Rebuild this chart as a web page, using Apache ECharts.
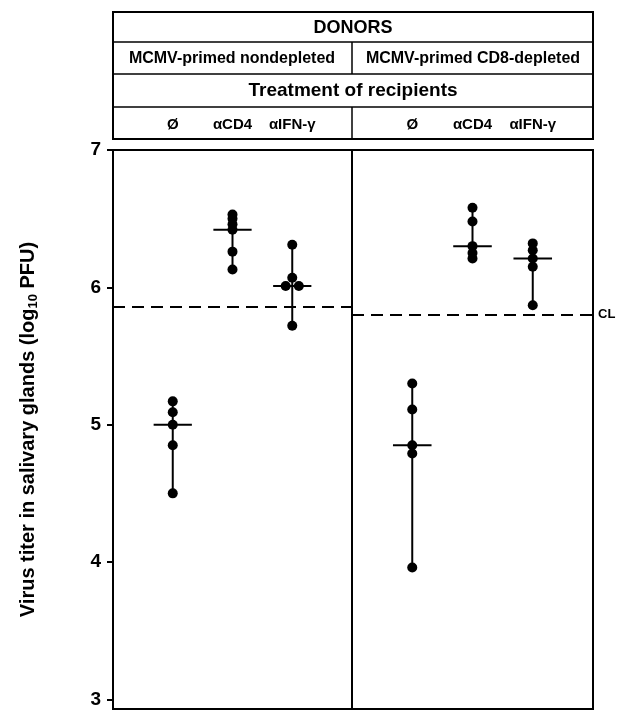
<!DOCTYPE html>
<html>
<head>
<meta charset="utf-8">
<script src="https://cdn.jsdelivr.net/npm/echarts@6/dist/echarts.min.js"></script>
<style>html,body{margin:0;padding:0;background:#fff}#c{width:620px;height:711px}</style>
</head>
<body>
<div id="c"></div>
<script>
// ---- data ----
const treatments = ['Ø', 'αCD4', 'αIFN-γ'];
const donorGroups = ['MCMV-primed nondepleted', 'MCMV-primed CD8-depleted'];
const nondepletedNone = [5.17, 5.09, 5.00, 4.85, 4.50];
const nondepletedCD4 = [6.53, 6.50, 6.46, 6.42, 6.26, 6.13];
const nondepletedIFN = [6.31, 6.07, 6.01, 6.01, 5.72];
const cd8depNone = [5.30, 5.11, 4.85, 4.79, 3.96];
const cd8depCD4 = [6.58, 6.48, 6.30, 6.25, 6.21];
const cd8depIFN = [6.32, 6.27, 6.21, 6.15, 5.87];
const nondepletedMedians = [5.00, 6.42, 6.01];
const cd8depMedians = [4.85, 6.30, 6.21];
const detectionLimits = [5.86, 5.80];
const yTicks = [3, 4, 5, 6, 7];

const panels = [
  {groups: [nondepletedNone, nondepletedCD4, nondepletedIFN], medians: nondepletedMedians, cl: detectionLimits[0], clLabel: ''},
  {groups: [cd8depNone, cd8depCD4, cd8depIFN], medians: cd8depMedians, cl: detectionLimits[1], clLabel: 'CL'}
];

const FONT = '"Liberation Sans", Arial, sans-serif';
const DODGE = 0.11;

function pointsFor(groups) {
  const pts = [];
  groups.forEach((vals, gi) => {
    const seen = {};
    vals.forEach(v => { seen[v] = (seen[v] || 0) + 1; });
    const used = {};
    vals.forEach(v => {
      const n = seen[v];
      const k = used[v] || 0; used[v] = k + 1;
      const off = n > 1 ? (k - (n - 1) / 2) * 2 * DODGE : 0;
      pts.push([gi + 1 + off, v]);
    });
  });
  return pts;
}
function barsFor(groups, medians) {
  return groups.map((vals, gi) => [gi + 1, Math.min(...vals), Math.max(...vals), medians[gi]]);
}

const series = [];
panels.forEach((p, pi) => {
  series.push({
    type: 'custom', xAxisIndex: pi, yAxisIndex: pi, silent: true, z: 2,
    data: barsFor(p.groups, p.medians),
    renderItem: function (params, api) {
      const x = api.value(0);
      const lo = api.coord([x, api.value(1)]);
      const hi = api.coord([x, api.value(2)]);
      const md = api.coord([x, api.value(3)]);
      const hw = api.size([0.32, 0])[0];
      const st = {stroke: '#000', lineWidth: 2};
      return {type: 'group', children: [
        {type: 'line', shape: {x1: lo[0], y1: lo[1], x2: hi[0], y2: hi[1]}, style: st},
        {type: 'line', shape: {x1: md[0] - hw, y1: md[1], x2: md[0] + hw, y2: md[1]}, style: st}
      ]};
    }
  });
  series.push({
    type: 'scatter', xAxisIndex: pi, yAxisIndex: pi, z: 3, silent: true,
    symbolSize: 10, itemStyle: {color: '#000', opacity: 1},
    data: pointsFor(p.groups),
    markLine: {
      silent: true, symbol: 'none', animation: false,
      lineStyle: {type: [12, 7], width: 2, color: '#000', opacity: 1},
      label: {show: !!p.clLabel, position: 'end', formatter: p.clLabel, color: '#000',
              fontWeight: 'bold', fontSize: 13, fontFamily: FONT, distance: 5},
      data: [{yAxis: p.cl}]
    }
  });
});

const gridCommon = {top: 150, height: 559, show: true, borderColor: '#000', borderWidth: 2, backgroundColor: 'transparent'};
const xCommon = {
  type: 'value', min: 0, max: 4, position: 'top',
  axisLine: {show: false}, axisTick: {show: false}, splitLine: {show: false},
  axisLabel: {customValues: [1, 2, 3], formatter: v => treatments[Math.round(v) - 1],
              margin: 18, color: '#000', fontWeight: 'bold', fontSize: 15, fontFamily: FONT}
};

const option = {
  animation: false,
  backgroundColor: '#fff',
  textStyle: {fontFamily: FONT},
  grid: [
    Object.assign({left: 113, width: 239}, gridCommon),
    Object.assign({left: 352, width: 241}, gridCommon)
  ],
  xAxis: [Object.assign({gridIndex: 0}, xCommon), Object.assign({gridIndex: 1}, xCommon)],
  yAxis: [
    {gridIndex: 0, type: 'value', min: 2.93, max: 7,
     axisLine: {show: true, lineStyle: {color: '#000', width: 2}},
     axisTick: {show: true, length: 6, customValues: yTicks, lineStyle: {color: '#000', width: 2}},
     axisLabel: {customValues: yTicks, color: '#000', fontWeight: 'bold', fontSize: 19, margin: 12, fontFamily: FONT},
     splitLine: {show: false},
     name: '{a|Virus titer in salivary glands (log}{s|10}{a| PFU)}',
     nameLocation: 'middle', nameGap: 73,
     nameTextStyle: {rich: {
       a: {fontSize: 20, fontWeight: 'bold', color: '#000', fontFamily: FONT, lineHeight: 24},
       s: {fontSize: 13, fontWeight: 'bold', color: '#000', fontFamily: FONT, lineHeight: 14, verticalAlign: 'bottom'}
     }}},
    {gridIndex: 1, type: 'value', min: 2.93, max: 7, show: true,
     axisLine: {show: false}, axisTick: {show: false}, axisLabel: {show: false}, splitLine: {show: false}}
  ],
  graphic: [
    {type: 'rect', shape: {x: 113, y: 12, width: 480, height: 127}, style: {fill: 'none', stroke: '#000', lineWidth: 2}},
    {type: 'line', shape: {x1: 113, y1: 42, x2: 593, y2: 42}, style: {stroke: '#000', lineWidth: 1.5}},
    {type: 'line', shape: {x1: 113, y1: 74, x2: 593, y2: 74}, style: {stroke: '#000', lineWidth: 1.5}},
    {type: 'line', shape: {x1: 113, y1: 107, x2: 593, y2: 107}, style: {stroke: '#000', lineWidth: 1.5}},
    {type: 'line', shape: {x1: 352, y1: 42, x2: 352, y2: 74}, style: {stroke: '#000', lineWidth: 1.5}},
    {type: 'line', shape: {x1: 352, y1: 107, x2: 352, y2: 139}, style: {stroke: '#000', lineWidth: 1.5}},
    {type: 'text', x: 353, y: 28, style: {text: 'DONORS', align: 'center', verticalAlign: 'middle', fontSize: 18, fontWeight: 'bold', fill: '#000', fontFamily: FONT}},
    {type: 'text', x: 232, y: 59, style: {text: donorGroups[0], align: 'center', verticalAlign: 'middle', fontSize: 16, fontWeight: 'bold', fill: '#000', fontFamily: FONT}},
    {type: 'text', x: 473, y: 59, style: {text: donorGroups[1], align: 'center', verticalAlign: 'middle', fontSize: 16, fontWeight: 'bold', fill: '#000', fontFamily: FONT}},
    {type: 'text', x: 353, y: 91, style: {text: 'Treatment of recipients', align: 'center', verticalAlign: 'middle', fontSize: 19, fontWeight: 'bold', fill: '#000', fontFamily: FONT}}
  ],
  series: series
};

const chart = echarts.init(document.getElementById('c'), null, {renderer: 'canvas'});
chart.setOption(option);
</script>
</body>
</html>
